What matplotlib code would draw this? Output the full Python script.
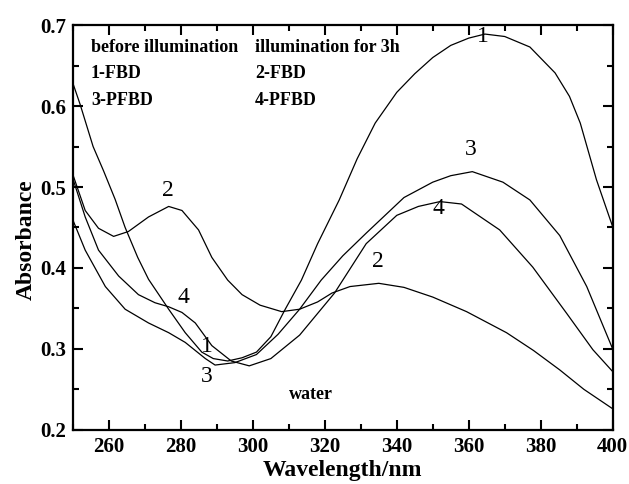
import matplotlib
matplotlib.use('Agg')
import matplotlib.pyplot as plt
from matplotlib.ticker import MultipleLocator

plt.rcParams['font.family'] = ['Liberation Serif', 'DejaVu Serif']

# curve 1: FBD before illumination
wl1 = [250, 252, 255.6, 258.5, 261.7, 264.5, 268, 271, 276.6, 281.2, 285.8, 289, 293, 297,
       301, 305, 309, 313.5, 318, 324, 329, 334, 340, 345, 350, 355, 360, 364.5, 370, 377,
       384, 388, 391, 395.5, 400]
ab1 = [0.628, 0.602, 0.550, 0.520, 0.485, 0.450, 0.413, 0.386, 0.349, 0.320, 0.296, 0.288,
       0.285, 0.289, 0.296, 0.315, 0.349, 0.385, 0.430, 0.484, 0.535, 0.579, 0.617, 0.640,
       0.660, 0.675, 0.684, 0.689, 0.686, 0.673, 0.641, 0.612, 0.579, 0.509, 0.451]

# curve 2: FBD after 3h illumination
wl2 = [250, 253.4, 257.1, 261.3, 265.4, 271, 276.6, 280.3, 284.9, 288.6, 293, 297, 302,
       308, 313, 318, 322, 327, 335, 342, 350, 359.4, 370.5, 378, 385.3, 392, 400]
ab2 = [0.515, 0.471, 0.449, 0.439, 0.445, 0.463, 0.476, 0.471, 0.447, 0.413, 0.385, 0.367,
       0.354, 0.346, 0.349, 0.358, 0.369, 0.377, 0.381, 0.376, 0.364, 0.346, 0.320, 0.298,
       0.274, 0.250, 0.226]

# curve 3: PFBD before illumination
wl3 = [250, 253.4, 259, 264.5, 271, 276.6, 281.2, 286.8, 289.5, 295, 301, 307, 313, 319,
       325, 331.5, 342, 350, 355, 361, 369.5, 377, 385.3, 392.8, 400]
ab3 = [0.459, 0.422, 0.377, 0.349, 0.332, 0.320, 0.308, 0.288, 0.280, 0.283, 0.293, 0.318,
       0.349, 0.385, 0.415, 0.443, 0.487, 0.506, 0.514, 0.519, 0.506, 0.484, 0.440, 0.377,
       0.300]

# curve 4: PFBD after 3h illumination
wl4 = [250, 253.4, 257.1, 262.7, 268.2, 272.8, 276.6, 280.3, 284, 288.6, 294, 299, 305,
       313, 322.7, 331.5, 340, 346, 352, 358, 368.6, 377.8, 387.2, 394.5, 400]
ab4 = [0.510, 0.463, 0.422, 0.390, 0.367, 0.357, 0.352, 0.345, 0.332, 0.304, 0.285, 0.279,
       0.288, 0.317, 0.369, 0.430, 0.465, 0.476, 0.482, 0.479, 0.447, 0.401, 0.344, 0.299,
       0.272]

curve_labels = ['1', '2', '3', '4', '1', '2', '3', '4']
label_x = [364, 276.4, 360.7, 351.5, 287.1, 334.8, 287.1, 280.7]
label_y = [0.686, 0.496, 0.546, 0.474, 0.303, 0.408, 0.266, 0.363]

fig = plt.figure(figsize=(6.29, 4.84), dpi=100)
ax = fig.add_axes([0.116, 0.112, 0.858, 0.836])

for wl, ab in [(wl1, ab1), (wl2, ab2), (wl3, ab3), (wl4, ab4)]:
    ax.plot(wl, ab, color='black', lw=0.9)

for t, x, y in zip(curve_labels, label_x, label_y):
    ax.text(x, y, t, fontsize=17, ha='center', va='center')

fs = 13
ax.text(255, 0.672, 'before illumination', fontsize=fs, fontweight='bold', va='center')
ax.text(255, 0.640, '1-FBD', fontsize=fs, fontweight='bold', va='center')
ax.text(255, 0.607, '3-PFBD', fontsize=fs, fontweight='bold', va='center')
ax.text(300.6, 0.672, 'illumination for 3h', fontsize=fs, fontweight='bold', va='center')
ax.text(300.6, 0.640, '2-FBD', fontsize=fs, fontweight='bold', va='center')
ax.text(300.6, 0.607, '4-PFBD', fontsize=fs, fontweight='bold', va='center')
ax.text(310, 0.243, 'water', fontsize=fs, fontweight='bold', va='center')

ax.set_xlim(250, 400)
ax.set_ylim(0.2, 0.7)
ax.xaxis.set_major_locator(MultipleLocator(20))
ax.xaxis.set_minor_locator(MultipleLocator(10))
ax.yaxis.set_major_locator(MultipleLocator(0.1))
ax.yaxis.set_minor_locator(MultipleLocator(0.05))
ax.tick_params(which='both', direction='in', top=True, right=True, width=1.5)
ax.tick_params(which='major', length=7, pad=5, labelsize=15)
ax.tick_params(which='minor', length=4)
for lab in ax.get_xticklabels() + ax.get_yticklabels():
    lab.set_fontweight('bold')
for s in ax.spines.values():
    s.set_linewidth(1.6)

ax.set_xlabel('Wavelength/nm', fontsize=17, fontweight='bold', labelpad=2)
ax.set_ylabel('Absorbance', fontsize=17, fontweight='bold')
ax.yaxis.set_label_coords(-0.067, 0.469)

fig.savefig('out.png', dpi=100)
